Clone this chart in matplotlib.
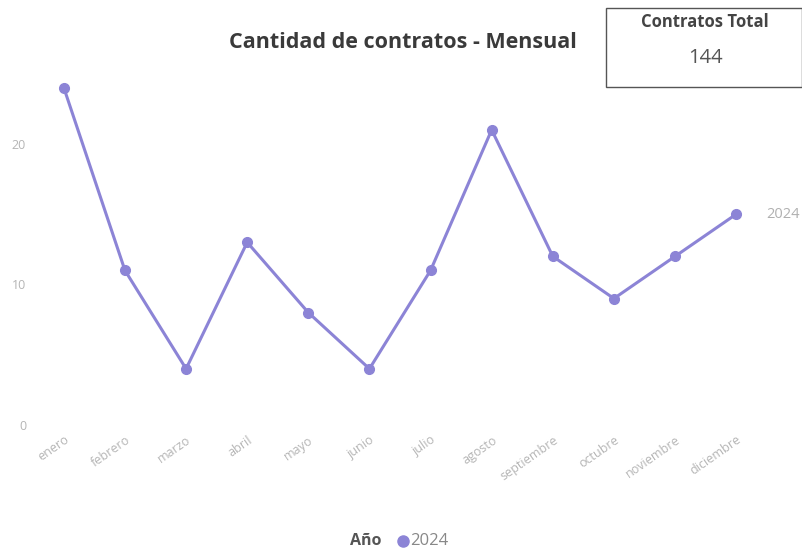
import matplotlib.pyplot as plt
from matplotlib.patches import Rectangle
from matplotlib.lines import Line2D

meses = ["enero", "febrero", "marzo", "abril", "mayo", "junio", "julio",
         "agosto", "septiembre", "octubre", "noviembre", "diciembre"]
contratos_2024 = [24, 11, 4, 13, 8, 4, 11, 21, 12, 9, 12, 15]
anio = "2024"
yticks = [0, 10, 20]

color = "#8c84d6"
plt.rcParams["font.family"] = ["Open Sans", "DejaVu Sans"]

fig = plt.figure(figsize=(8.03, 5.53), dpi=100)
ax = fig.add_axes([40 / 803, 1 - 425 / 553, 720 / 803, 345 / 553])

x = list(range(len(meses)))
ax.plot(x, contratos_2024, color=color, linewidth=2.2, marker="o",
        markersize=7, solid_capstyle="round")

ax.set_xlim(-0.39, 11.39)
ax.set_ylim(0, 24.55)
ax.set_yticks(yticks)
ax.set_yticklabels([str(v) for v in yticks], color="#b5b5b5", fontsize=9)
ax.set_xticks(x)
ax.set_xticklabels(meses, rotation=35, ha="right", rotation_mode="anchor",
                   color="#b5b5b5", fontsize=9)
ax.tick_params(length=0, pad=6)
ax.tick_params(axis="y", pad=10)
for s in ax.spines.values():
    s.set_visible(False)

# series label at the last point
ax.annotate(anio, (x[-1], contratos_2024[-1]), xytext=(22, 0),
            textcoords="offset points", color="#b0b0b0", fontsize=10.5,
            va="center", annotation_clip=False)

fig.text(403 / 803, 1 - 42 / 553, "Cantidad de contratos - Mensual",
         ha="center", va="center", fontsize=15.5, fontweight="bold", color="#3a3a3a")

# KPI card
card = Rectangle((606 / 803, 1 - 87 / 553), 196 / 803, 79 / 553,
                 transform=fig.transFigure, facecolor="white",
                 edgecolor="#555555", linewidth=1.0)
fig.patches.append(card)
fig.text(705 / 803, 1 - 22 / 553, "Contratos Total", ha="center", va="center",
         fontsize=12, fontweight="bold", color="#444444")
fig.text(705 / 803, 1 - 58 / 553, str(sum(contratos_2024)), ha="center",
         va="center", fontsize=14.5, color="#555555")

# legend
fig.text(382 / 803, 1 - 541 / 553, "Año", ha="right", va="center",
         fontsize=11.5, fontweight="bold", color="#555555")
fig.add_artist(Line2D([403 / 803], [1 - 541 / 553], marker="o", markersize=8,
                      color=color, transform=fig.transFigure))
fig.text(410 / 803, 1 - 541 / 553, anio, ha="left", va="center",
         fontsize=12, color="#888888")

fig.savefig("out.png", dpi=100, facecolor="white")
